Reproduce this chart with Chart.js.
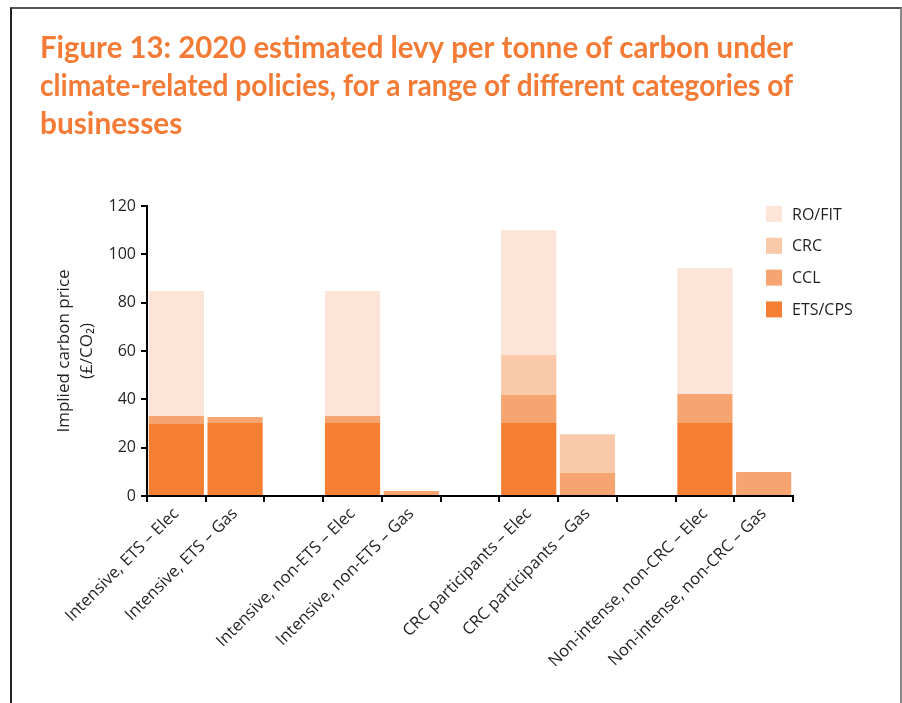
<!DOCTYPE html>
<html>
<head>
<meta charset="utf-8">
<script src="https://cdn.jsdelivr.net/npm/chart.js@4/dist/chart.umd.min.js"></script>
<style>
  html, body { margin: 0; padding: 0; background: #fff; }
  #wrap { position: relative; width: 902px; height: 703px; overflow: hidden; }
  #frame {
    position: absolute; left: 10px; top: 7px; width: 888px; height: 760px;
    border-left: 2px solid #222; border-top: 2px solid #555; border-right: 2px solid #888;
  }
  canvas { position: absolute; left: 0; top: 0; }
</style>
</head>
<body>
<div id="wrap">
  <div id="frame"></div>
  <canvas id="c" width="902" height="703"></canvas>
</div>
<script>
// Business categories; empty strings leave a gap between the groups
const categories = [
  'Intensive, ETS – Elec', 'Intensive, ETS – Gas', '',
  'Intensive, non-ETS – Elec', 'Intensive, non-ETS – Gas', '',
  'CRC participants – Elec', 'CRC participants – Gas', '',
  'Non-intense, non-CRC – Elec', 'Non-intense, non-CRC – Gas'
];

// Levy components, £ per tonne CO2 (stacked bottom to top)
const etsCps = [29.8, 30.2, null, 30.2, 0, null, 30.2, 0, null, 30.2, 0];
const ccl    = [3.3, 2.5, null, 2.9, 2.1, null, 11.6, 9.5, null, 12.0, 9.9];
const crc    = [0, 0, null, 0, 0, null, 16.5, 16.1, null, 0, 0];
const roFit  = [51.7, 0, null, 51.7, 0, null, 51.7, 0, null, 52.1, 0];

const yTicks = [0, 20, 40, 60, 80, 100, 120];

const titleLines = [
  'Figure 13: 2020 estimated levy per tonne of carbon under',
  'climate-related policies, for a range of different categories of',
  'businesses'
];

const TITLE_FONT = 'Lato, "Open Sans", sans-serif';
const FONT = '"Open Sans", "Noto Sans", sans-serif';
const INK = '#231F20';

// Legend drawn inside the plot, top series first
const insideLegend = {
  id: 'insideLegend',
  afterDraw(chart) {
    const ctx = chart.ctx;
    const sets = chart.data.datasets.slice().reverse();
    ctx.save();
    ctx.font = '16px ' + FONT;
    ctx.textBaseline = 'middle';
    ctx.textAlign = 'left';
    sets.forEach((ds, i) => {
      const cy = 214 + i * 31.8;
      ctx.fillStyle = ds.backgroundColor;
      ctx.fillRect(766, cy - 8, 16, 16);
      ctx.fillStyle = INK;
      ctx.fillText(ds.label, 792, cy + 1);
    });
    ctx.restore();
  }
};

new Chart(document.getElementById('c'), {
  type: 'bar',
  data: {
    labels: categories,
    datasets: [
      { label: 'ETS/CPS', data: etsCps, backgroundColor: '#F58033' },
      { label: 'CCL',     data: ccl,    backgroundColor: '#F6A571' },
      { label: 'CRC',     data: crc,    backgroundColor: '#FAC9A9' },
      { label: 'RO/FIT',  data: roFit,  backgroundColor: '#FCE4D6' }
    ]
  },
  options: {
    responsive: false,
    animation: false,
    devicePixelRatio: 1,
    layout: { padding: { left: 40, right: 109, top: 0, bottom: 0 } },
    datasets: { bar: { barPercentage: 0.94, categoryPercentage: 1, borderWidth: 0 } },
    plugins: {
      legend: { display: false },
      tooltip: { enabled: false },
      title: {
        display: true,
        text: titleLines,
        align: 'start',
        color: '#F37B36',
        font: { family: TITLE_FONT, size: 29.8, weight: 'bold', lineHeight: 38 / 29.8 },
        padding: { top: 29, bottom: 63 }
      }
    },
    scales: {
      x: {
        stacked: true,
        grid: { display: true, offset: true, drawOnChartArea: false, drawTicks: true, tickLength: 6, color: '#000', lineWidth: 2 },
        border: { display: true, color: '#000', width: 2 },
        ticks: { autoSkip: false, minRotation: 45, maxRotation: 45, color: INK, font: { family: FONT, size: 16.5 }, padding: 2 },
        afterFit(scale) { scale.height = 207; }
      },
      y: {
        stacked: true,
        min: 0, max: 120,
        afterBuildTicks(scale) { scale.ticks = yTicks.map(v => ({ value: v })); },
        grid: { display: true, drawOnChartArea: false, drawTicks: true, tickLength: 6, color: '#000', lineWidth: 2 },
        border: { display: true, color: '#000', width: 2 },
        ticks: { color: INK, font: { family: FONT, size: 16 }, padding: 5 },
        title: {
          display: true,
          text: ['Implied carbon price', '(£/CO₂)'],
          color: INK,
          font: { family: FONT, size: 17, lineHeight: 23 / 17 },
          padding: { top: 13, bottom: 0 }
        },
        afterFit(scale) { scale.width = 107; }
      }
    }
  },
  plugins: [insideLegend]
});
</script>
</body>
</html>
